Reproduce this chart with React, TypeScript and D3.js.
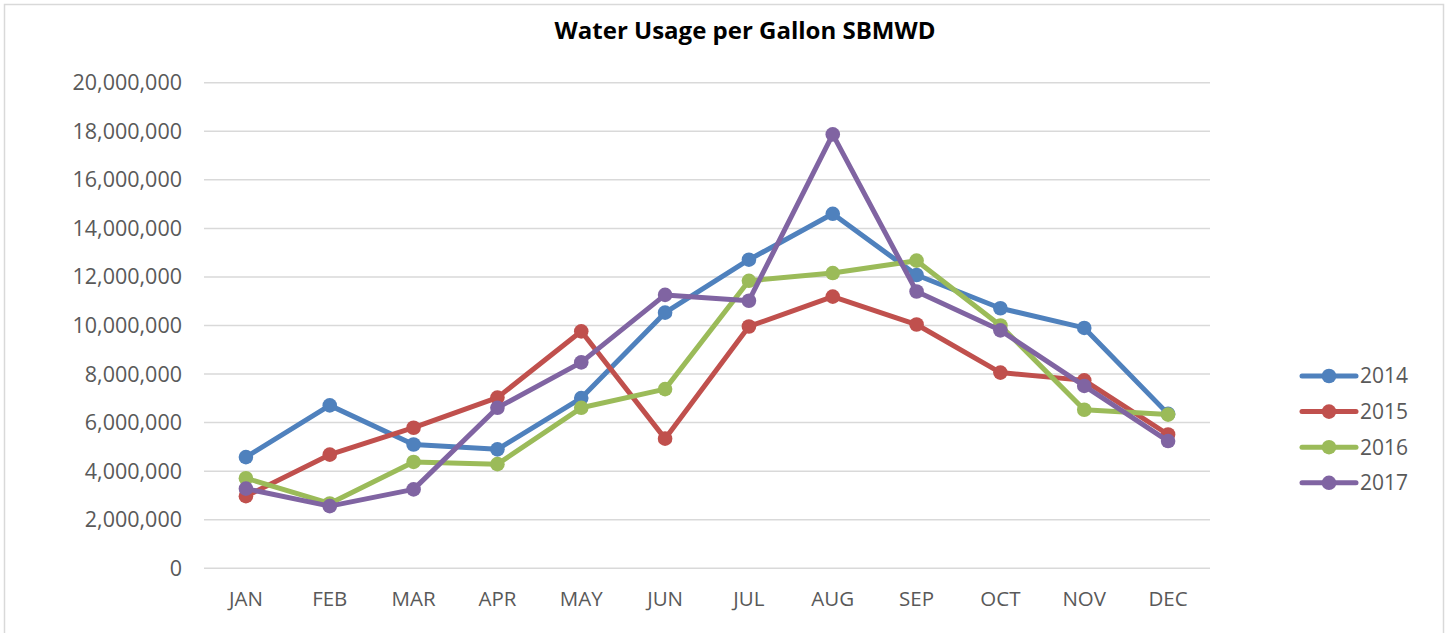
import React, { useEffect, useRef } from "react";
import * as d3 from "d3";

const months = ["JAN", "FEB", "MAR", "APR", "MAY", "JUN", "JUL", "AUG", "SEP", "OCT", "NOV", "DEC"];
const seriesNames = ["2014", "2015", "2016", "2017"];
const values2014 = [4580000, 6710000, 5100000, 4900000, 7010000, 10530000, 12710000, 14600000, 12080000, 10710000, 9900000, 6360000];
const values2015 = [2970000, 4680000, 5790000, 7030000, 9760000, 5340000, 9960000, 11190000, 10040000, 8060000, 7740000, 5510000];
const values2016 = [3710000, 2670000, 4380000, 4290000, 6610000, 7380000, 11840000, 12160000, 12670000, 10000000, 6530000, 6330000];
const values2017 = [3280000, 2560000, 3250000, 6610000, 8480000, 11260000, 11020000, 17870000, 11400000, 9800000, 7510000, 5240000];
const yTicks = [0, 2000000, 4000000, 6000000, 8000000, 10000000, 12000000, 14000000, 16000000, 18000000, 20000000];
const colors = ["#4f81bd", "#c0504d", "#9bbb59", "#8064a2"];
const title = "Water Usage per Gallon SBMWD";

export default function App() {
  const ref = useRef<SVGSVGElement | null>(null);
  useEffect(() => {
    document.body.style.margin = "0";
    const svg = d3.select(ref.current);
    svg.selectAll("*").remove();
    const W = 1450, H = 633;
    const font = "'Open Sans', 'Liberation Sans', sans-serif";
    svg.append("rect").attr("x", 0).attr("y", 0).attr("width", W).attr("height", H).attr("fill", "#fff");
    svg.append("rect").attr("x", 4.5).attr("y", 4.5).attr("width", 1439).attr("height", 660)
      .attr("fill", "none").attr("stroke", "#d9d9d9").attr("stroke-width", 1.5);

    const x = d3.scalePoint<string>().domain(months).range([204, 1210]).padding(0.5);
    const y = d3.scaleLinear().domain([0, 20000000]).range([568.3, 82.7]);

    svg.append("g").selectAll("line").data(yTicks).join("line")
      .attr("x1", 204).attr("x2", 1210)
      .attr("y1", d => y(d)).attr("y2", d => y(d))
      .attr("stroke", "#d9d9d9").attr("stroke-width", 1.5);

    const fmt = d3.format(",");
    svg.append("g").selectAll("text").data(yTicks).join("text")
      .attr("x", 182).attr("y", d => y(d)).attr("dy", "0.35em")
      .attr("text-anchor", "end").attr("font-family", font).attr("font-size", 21.5)
      .attr("fill", "#595959").text(d => fmt(d));

    svg.append("g").selectAll("text").data(months).join("text")
      .attr("x", d => x(d)!).attr("y", 599).attr("dy", "0.35em")
      .attr("text-anchor", "middle").attr("font-family", font).attr("font-size", 20.5)
      .attr("fill", "#595959").text(d => d);

    svg.append("text").attr("x", 745).attr("y", 39).attr("text-anchor", "middle")
      .attr("font-family", font).attr("font-weight", "bold").attr("font-size", 24)
      .attr("fill", "#000").text(title);

    const allSeries = [values2014, values2015, values2016, values2017];
    const line = d3.line<number>().x((_, i) => x(months[i])!).y(d => y(d));
    allSeries.forEach((vals, si) => {
      const g = svg.append("g");
      g.append("path").attr("d", line(vals)!).attr("fill", "none")
        .attr("stroke", colors[si]).attr("stroke-width", 5).attr("stroke-linejoin", "round").attr("stroke-linecap", "round");
      g.selectAll("circle").data(vals).join("circle")
        .attr("cx", (_, i) => x(months[i])!).attr("cy", d => y(d)).attr("r", 7.3)
        .attr("fill", colors[si]);
    });

    const lg = svg.append("g");
    seriesNames.forEach((name, i) => {
      const cy = 376 + i * 35.6;
      lg.append("line").attr("x1", 1302).attr("x2", 1356).attr("y1", cy).attr("y2", cy)
        .attr("stroke", colors[i]).attr("stroke-width", 5).attr("stroke-linecap", "round");
      lg.append("circle").attr("cx", 1329).attr("cy", cy).attr("r", 7.3).attr("fill", colors[i]);
      lg.append("text").attr("x", 1360).attr("y", cy).attr("dy", "0.35em")
        .attr("font-family", font).attr("font-size", 21).attr("fill", "#595959").text(name);
    });
  }, []);
  return <svg ref={ref} width={1450} height={633} style={{ display: "block" }} />;
}
